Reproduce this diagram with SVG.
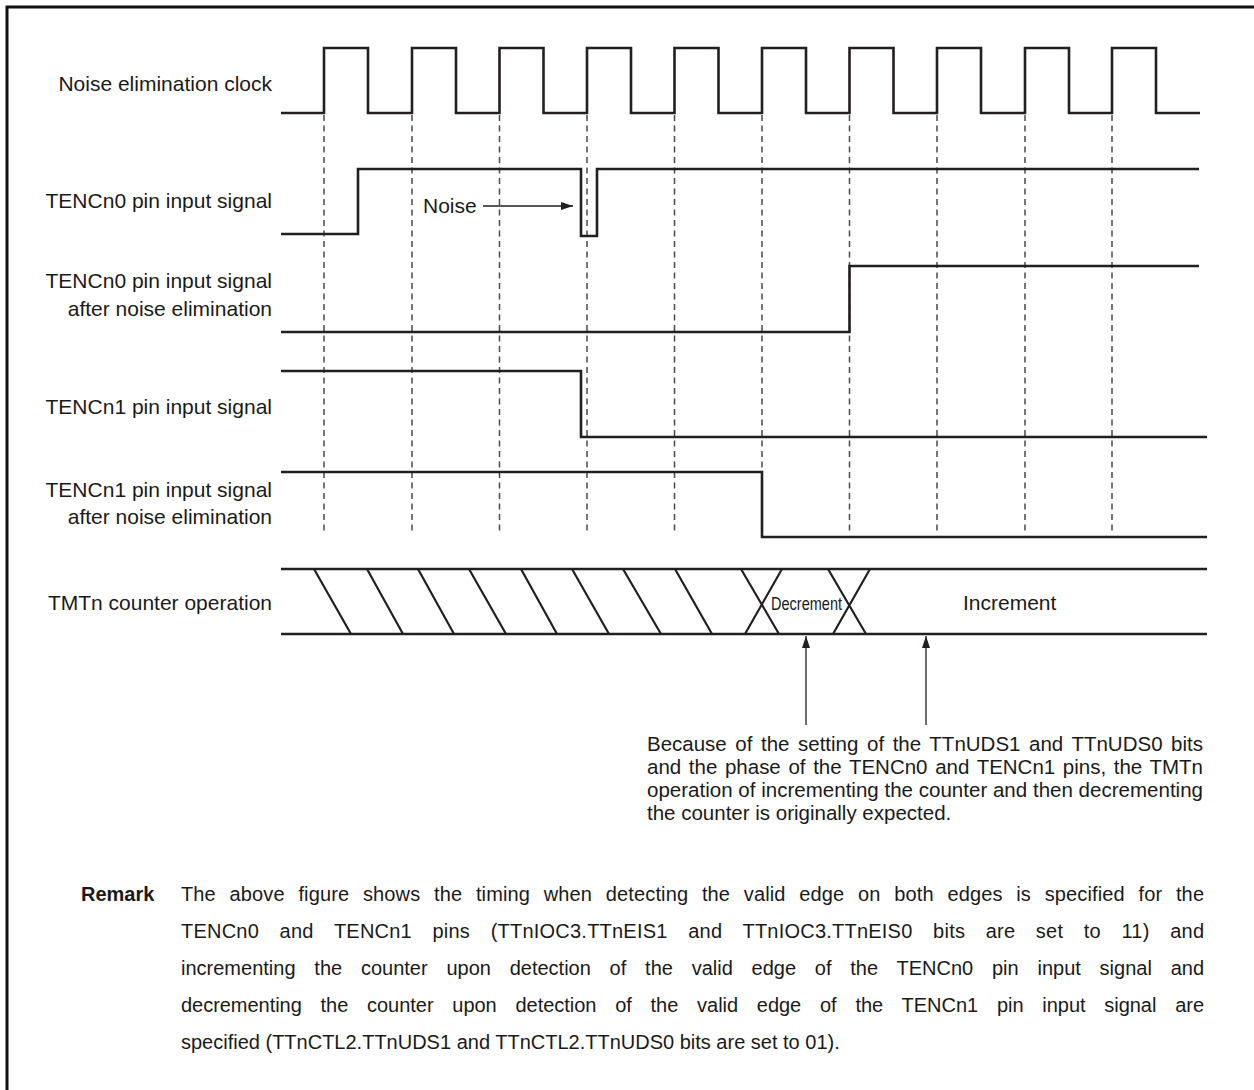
<svg xmlns="http://www.w3.org/2000/svg" width="1254" height="1090" viewBox="0 0 1254 1090">
<style>
  text { font-family: "Liberation Sans", Arial, sans-serif; fill: #1a1a1a; }
  .lbl { font-size: 21px; text-anchor: end; }
  .sig { fill: none; stroke: #231f20; stroke-width: 2.6; stroke-linejoin: miter; }
  .grid { stroke: #4a4a4a; stroke-width: 1.5; stroke-dasharray: 6 4.5; fill: none; }
  .bus { fill: none; stroke: #231f20; stroke-width: 2.2; }
  .ptr { stroke: #231f20; stroke-width: 1.3; fill: none; }
  .note { font-size: 20.5px; }
  .rem { font-size: 20px; }
</style>
<defs>
  <marker id="ah" viewBox="0 0 12 8" refX="12" refY="4" markerWidth="12" markerHeight="8" markerUnits="userSpaceOnUse" orient="auto">
    <path d="M0,0 L12,4 L0,8 z" fill="#231f20"/>
  </marker>
</defs>
<rect width="1254" height="1090" fill="#fff"/>
<g id="frame">
  <path d="M7,1090 V7 H1254" fill="none" stroke="#111" stroke-width="3"/>
</g>
<g id="grid">
  <line class="grid" x1="324" y1="115" x2="324" y2="534"/>
  <line class="grid" x1="412" y1="115" x2="412" y2="534"/>
  <line class="grid" x1="499.5" y1="115" x2="499.5" y2="534"/>
  <line class="grid" x1="587" y1="115" x2="587" y2="534"/>
  <line class="grid" x1="674.5" y1="115" x2="674.5" y2="534"/>
  <line class="grid" x1="762" y1="115" x2="762" y2="534"/>
  <line class="grid" x1="849.5" y1="115" x2="849.5" y2="534"/>
  <line class="grid" x1="937" y1="115" x2="937" y2="534"/>
  <line class="grid" x1="1025" y1="115" x2="1025" y2="534"/>
  <line class="grid" x1="1112" y1="115" x2="1112" y2="534"/>
</g>
<g id="clock">
  <text class="lbl" x="272" y="91">Noise elimination clock</text>
  <path class="sig" d="M281,113 H324 V48 H368 V113 H412 V48 H456 V113 H499.5 V48 H543.5 V113 H587 V48 H631 V113 H674.5 V48 H718.5 V113 H762 V48 H806 V113 H849.5 V48 H893.5 V113 H937 V48 H981 V113 H1025 V48 H1069 V113 H1112 V48 H1156 V113 H1200"/>
</g>
<g id="tenc0">
  <text class="lbl" x="272" y="208">TENCn0 pin input signal</text>
  <path class="sig" d="M281,234 H358 V169 H581 V236 H597 V169 H1199"/>
  <text x="423" y="213" style="font-size:21px">Noise</text>
</g>
<g id="tenc0f">
  <text class="lbl" x="272" y="288">TENCn0 pin input signal</text>
  <text class="lbl" x="272" y="316">after noise elimination</text>
  <path class="sig" d="M281,332 H849.5 V266 H1199"/>
</g>
<g id="tenc1">
  <text class="lbl" x="272" y="414">TENCn1 pin input signal</text>
  <path class="sig" d="M281,371 H581 V437 H1207"/>
</g>
<g id="tenc1f">
  <text class="lbl" x="272" y="497">TENCn1 pin input signal</text>
  <text class="lbl" x="272" y="524">after noise elimination</text>
  <path class="sig" d="M281,472 H762 V537 H1207"/>
</g>
<g id="counter">
  <text class="lbl" x="272" y="610">TMTn counter operation</text>
  <line class="sig" x1="281" y1="569" x2="1207" y2="569"/>
  <line class="sig" x1="281" y1="634" x2="1207" y2="634"/>
  <path class="bus" d="M314,569 L351,634 M367,569 L403,634 M418,569 L454,634 M469,569 L506,634 M521,569 L557,634 M572,569 L609,634 M623,569 L661,634 M675,569 L712,634"/>
  <path class="bus" d="M741,569 L779,634 M782,569 L745,634 M828,569 L866,634 M870,569 L833,634"/>
  <text x="771" y="610" style="font-size:19px" textLength="71" lengthAdjust="spacingAndGlyphs">Decrement</text>
  <text x="963" y="610" style="font-size:21px">Increment</text>
</g>
<g id="connectors">
  <line class="ptr" x1="483" y1="206" x2="573" y2="206" marker-end="url(#ah)"/>
  <line class="ptr" x1="806" y1="725" x2="806" y2="636" marker-end="url(#ah)"/>
  <line class="ptr" x1="926" y1="725" x2="926" y2="636" marker-end="url(#ah)"/>
</g>
<g id="annotation">
  <text class="note" x="647" y="751" word-spacing="2.9" textLength="556">Because of the setting of the TTnUDS1 and TTnUDS0 bits</text>
  <text class="note" x="647" y="774" word-spacing="2" textLength="556">and the phase of the TENCn0 and TENCn1 pins, the TMTn</text>
  <text class="note" x="647" y="797" textLength="556">operation of incrementing the counter and then decrementing</text>
  <text class="note" x="647" y="820">the counter is originally expected.</text>
</g>
<g id="remark">
  <text class="rem" x="81" y="901" font-weight="bold">Remark</text>
  <text class="rem" x="181" y="901" word-spacing="8" textLength="1023">The above figure shows the timing when detecting the valid edge on both edges is specified for the</text>
  <text class="rem" x="181" y="938" word-spacing="14.8" textLength="1023">TENCn0 and TENCn1 pins (TTnIOC3.TTnEIS1 and TTnIOC3.TTnEIS0 bits are set to 11) and</text>
  <text class="rem" x="181" y="975" word-spacing="13.2" textLength="1023">incrementing the counter upon detection of the valid edge of the TENCn0 pin input signal and</text>
  <text class="rem" x="181" y="1012" word-spacing="13.3" textLength="1023">decrementing the counter upon detection of the valid edge of the TENCn1 pin input signal are</text>
  <text class="rem" x="181" y="1049">specified (TTnCTL2.TTnUDS1 and TTnCTL2.TTnUDS0 bits are set to 01).</text>
</g>
</svg>
